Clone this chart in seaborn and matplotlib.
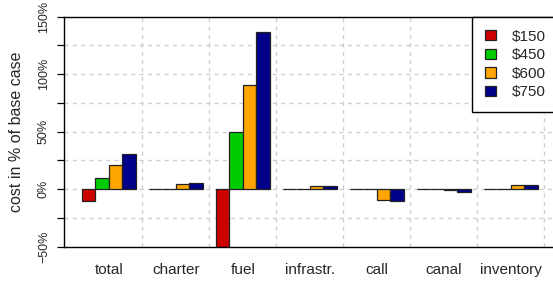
import matplotlib
matplotlib.use("Agg")
import matplotlib.pyplot as plt
import seaborn as sns
import pandas as pd
import numpy as np

categories = ["total", "charter", "fuel", "infrastr.", "call", "canal", "inventory"]
prices = ["$150", "$450", "$600", "$750"]
v150 = [-10, 0, -50, 0, 0, 0, 0]
v450 = [10, 0, 50, 0, 0, 0, 0]
v600 = [21, 4.5, 91, 3, -9.5, -1, 3.5]
v750 = [31, 5, 137, 3, -10.5, -2, 3.5]
colors = ["#CD0000", "#00CD00", "#FFA500", "#00008B"]
ytick_vals = [-50, -25, 0, 25, 50, 75, 100, 125, 150]
ytick_labels = ["\u221250%", "", "0%", "", "50%", "", "100%", "", "150%"]

rows = []
for p, vals in zip(prices, [v150, v450, v600, v750]):
    for c, v in zip(categories, vals):
        rows.append({"category": c, "price": p, "value": v})
df = pd.DataFrame(rows)

sns.set_style("white")
plt.rcParams["font.family"] = ["Liberation Sans", "DejaVu Sans"]

fig = plt.figure(figsize=(5.53, 2.81), dpi=100)
W, H = 553, 281
left, right, top, bottom = 63.8, 555.8, 16.7, 246.7
ax = fig.add_axes([left / W, (H - bottom) / H, (right - left) / W, (bottom - top) / H])

# grid
for y in [-25, 0, 25, 50, 75, 100, 125]:
    ax.axhline(y, color="#CFCFCF", lw=1, ls=(0, (3, 3)), zorder=0)
for x in np.arange(0.5, 7, 1.0):
    ax.axvline(x, color="#CFCFCF", lw=1, ls=(0, (3, 3)), zorder=0)

sns.barplot(data=df, x="category", y="value", hue="price", order=categories,
            hue_order=prices, palette=colors, saturation=1, width=0.8,
            edgecolor="#222222", linewidth=0.9, ax=ax, zorder=2, legend=True)

ax.set_xlim(-0.672, 6.672)
ax.set_ylim(-50, 150)
ax.set_xlabel("")
ax.set_ylabel("cost in % of base case", fontsize=11.5, labelpad=10)
ax.set_yticks(ytick_vals)
ax.set_yticklabels(ytick_labels, rotation=90, va="center", fontsize=9)
ax.tick_params(axis="y", length=5, width=0.9, color="black", pad=5, left=True)
ax.tick_params(axis="x", length=0, pad=12, labelsize=11)

for s in ["left", "top", "bottom"]:
    ax.spines[s].set_visible(True)
    ax.spines[s].set_color("black")
    ax.spines[s].set_linewidth(1)
ax.spines["right"].set_visible(False)

handles, labels = ax.get_legend_handles_labels()
leg = ax.legend(handles, [l.replace("$", r"\$") for l in labels],
                loc="upper left", bbox_to_anchor=((472 - left) / (right - left), 1.0),
                borderaxespad=0, fontsize=11, frameon=True, fancybox=False,
                edgecolor="black", framealpha=1, borderpad=0.85,
                handlelength=0.75, handleheight=0.65, handletextpad=1.0,
                labelspacing=0.3)
leg.get_frame().set_linewidth(1)

fig.savefig("out.png", dpi=100)
